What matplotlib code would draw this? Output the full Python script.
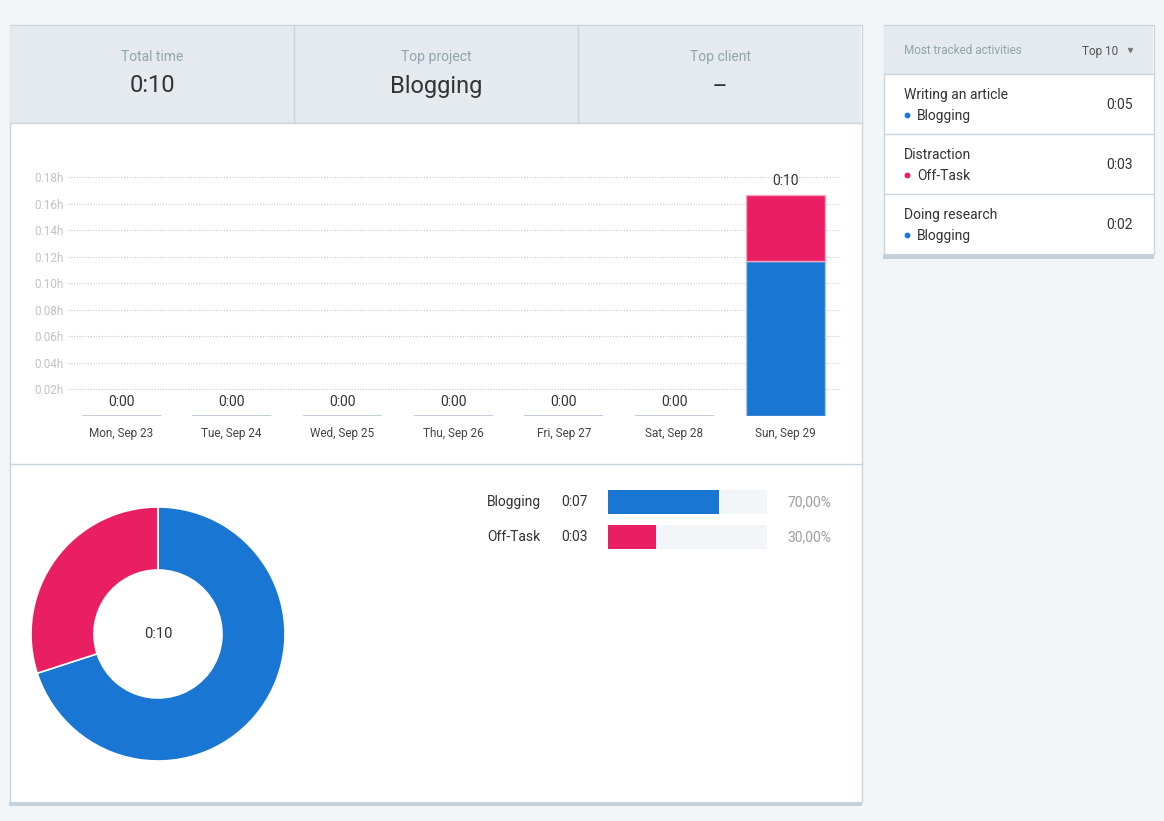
import numpy as np
import matplotlib.pyplot as plt
from matplotlib.patches import Rectangle

plt.rcParams['font.family'] = ['Roboto', 'DejaVu Sans']

# data
days = ['Mon, Sep 23', 'Tue, Sep 24', 'Wed, Sep 25', 'Thu, Sep 26',
        'Fri, Sep 27', 'Sat, Sep 28', 'Sun, Sep 29']
blogging_min = [0, 0, 0, 0, 0, 0, 7]
offtask_min = [0, 0, 0, 0, 0, 0, 3]
projects = ['Blogging', 'Off-Task']
project_min = [7, 3]
project_share = [70.0, 30.0]
activities = ['Writing an article', 'Distraction', 'Doing research']
activity_project = ['Blogging', 'Off-Task', 'Blogging']
activity_time = ['0:05', '0:03', '0:02']
summary_labels = ['Total time', 'Top project', 'Top client']
summary_values = ['0:10', 'Blogging', '--']
yticks_h = [0.02, 0.04, 0.06, 0.08, 0.10, 0.12, 0.14, 0.16, 0.18]

BLUE = '#1976d2'
PINK = '#e91e63'
proj_color = {'Blogging': BLUE, 'Off-Task': PINK}
PAGE = '#f2f6f9'
HEAD = '#e4eaee'
BORDER = '#c9d4dc'
SHADOW = '#c4d0d9'
GREY = '#90a4ae'
DARK = '#333333'

W, H = 1164, 821
fig = plt.figure(figsize=(W / 100, H / 100), dpi=100, facecolor=PAGE)


def px_axes(l, t, r, b, z=2):
    a = fig.add_axes([l / W, 1 - b / H, (r - l) / W, (b - t) / H])
    a.set_zorder(z)
    a.patch.set_alpha(0)
    return a


def fmt(m):
    return '%d:%02d' % (m // 60, m % 60)


# background layer in pixel coords
bg = fig.add_axes([0, 0, 1, 1])
bg.set_zorder(0)
bg.set_xlim(0, W)
bg.set_ylim(H, 0)
bg.axis('off')

# main panel
bg.add_patch(Rectangle((9, 802), 853, 4, color=SHADOW, lw=0))
bg.add_patch(Rectangle((9.5, 25.5), 852, 777, fc='white', ec=BORDER, lw=1))
bg.add_patch(Rectangle((10, 26), 851, 97, fc=HEAD, lw=0))
bg.plot([10, 862], [123.5, 123.5], color=BORDER, lw=1)
for x in [293.5, 577.5]:
    bg.plot([x, x], [26, 123], color=BORDER, lw=1)
for i, (lab, val) in enumerate(zip(summary_labels, summary_values)):
    cx = 152 + 284 * i
    bg.text(cx, 57, lab, ha='center', va='center', fontsize=10, color=GREY)
    bg.text(cx, 86, val, ha='center', va='center', fontsize=17, color=DARK)
bg.plot([10, 862], [464.5, 464.5], color=BORDER, lw=1)

# right panel
bg.add_patch(Rectangle((883, 254), 271, 5, color=SHADOW, lw=0))
bg.add_patch(Rectangle((883.5, 25.5), 270, 229, fc='white', ec=BORDER, lw=1))
bg.add_patch(Rectangle((884, 26), 269, 48, fc=HEAD, lw=0))
bg.plot([884, 1153], [74.5, 74.5], color=BORDER, lw=1)
bg.text(904, 51, 'Most tracked activities', ha='left', va='center',
        fontsize=8.5, color=GREY)
bg.text(1082, 51, 'Top 10', ha='left', va='center', fontsize=8.5, color='#555555')
bg.plot([1129.5], [50], marker='v', ms=2.8, color='#777777')
for i, (act, proj, t) in enumerate(zip(activities, activity_project, activity_time)):
    top = 74 + 60 * i
    bg.text(904, top + 21, act, ha='left', va='center', fontsize=10, color=DARK)
    bg.plot([907], [top + 41.5], marker='o', ms=3.2, color=proj_color[proj])
    bg.text(917, top + 42, proj, ha='left', va='center', fontsize=10, color=DARK)
    bg.text(1133, top + 31, t, ha='right', va='center', fontsize=10, color=DARK)
    if i < len(activities) - 1:
        bg.plot([884, 1153], [top + 60.5, top + 60.5], color=BORDER, lw=1)

# stacked bar chart
ax = px_axes(68, 163.75, 841, 415.5)
x = np.arange(len(days))
blog_h = np.array(blogging_min) / 60
off_h = np.array(offtask_min) / 60
total_min = np.array(blogging_min) + np.array(offtask_min)
bw = 0.714
ax.bar(x, blog_h, bw, color=BLUE, edgecolor='#a8c6e6', lw=1, zorder=3)
ax.bar(x, off_h, bw, bottom=blog_h, color=PINK, edgecolor='#f2a6bf', lw=1, zorder=3)
for i in x:
    if total_min[i] == 0:
        ax.plot([i - bw / 2, i + bw / 2], [0, 0], color='#b9c9d6', lw=1.2,
                zorder=3, solid_capstyle='butt')
    ax.annotate(fmt(total_min[i]), xy=(i, total_min[i] / 60), xytext=(0, 14),
                textcoords='offset pixels', ha='center', va='center',
                fontsize=10, color=DARK)
    ax.annotate(days[i], xy=(i, 0), xytext=(0, -18), textcoords='offset pixels',
                ha='center', va='center', fontsize=8.5, color='#444444')
ax.set_xlim(-0.479, 6.504)
ax.set_ylim(0, 0.19)
ax.set_xticks([])
ax.set_yticks(yticks_h)
ax.set_yticklabels(['%.2fh' % v for v in yticks_h], fontsize=8.5, color='#c2c2c2')
ax.tick_params(axis='y', length=0, pad=3)
ax.grid(axis='y', color='#c8c8c8', linestyle=(0, (1, 1.5)), lw=0.8, zorder=0)
for s in ax.spines.values():
    s.set_visible(False)

# donut
ad = px_axes(31, 507, 285, 761)
ad.pie(project_min, colors=[proj_color[p] for p in projects], startangle=90,
       counterclock=False, radius=1,
       wedgeprops=dict(width=0.496, edgecolor='white', linewidth=1.2))
ad.text(0, 0, fmt(sum(project_min)), ha='center', va='center', fontsize=10.5,
        color=DARK)
ad.set_xlim(-1, 1)
ad.set_ylim(-1, 1)
ad.set_aspect('equal')
ad.axis('off')

# project share bars
ap = px_axes(608, 490, 767, 549)
rows = np.arange(len(projects))
ap.barh(rows, [1] * len(projects), 0.686, color=PAGE, lw=0)
ap.barh(rows, np.array(project_share) / 100, 0.686,
        color=[proj_color[p] for p in projects], lw=0)
for i, p in enumerate(projects):
    ap.annotate(p, xy=(0, i), xytext=(-67, 0), textcoords='offset pixels',
                ha='right', va='center', fontsize=10, color=DARK)
    ap.annotate(fmt(project_min[i]), xy=(0, i), xytext=(-47, 0),
                textcoords='offset pixels', ha='left', va='center',
                fontsize=10, color=DARK)
    ap.annotate(('%.2f%%' % project_share[i]).replace('.', ','), xy=(1, i),
                xytext=(64, 0), textcoords='offset pixels', ha='right',
                va='center', fontsize=10, color='#9e9e9e')
ap.set_xlim(0, 1)
ap.set_ylim(1.343, -0.343)
ap.axis('off')

fig.savefig('out.png', dpi=100, facecolor=PAGE)
